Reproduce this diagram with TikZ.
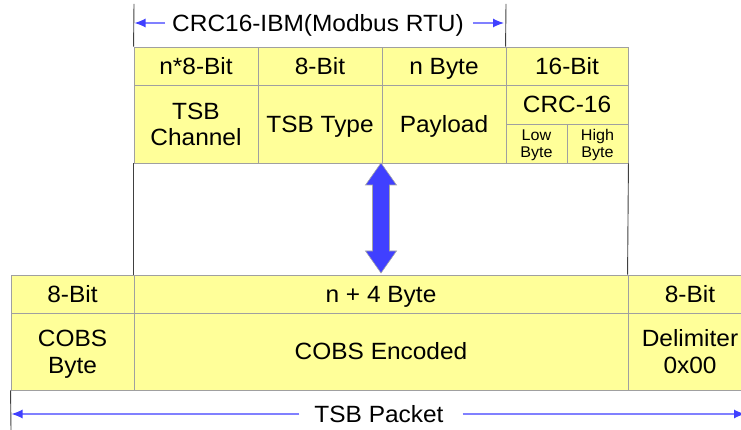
\documentclass[tikz,border=0pt]{standalone}
\usepackage{fontspec}
\setmainfont{Liberation Sans}[FakeStretch=1.04]
\usetikzlibrary{arrows.meta}
\definecolor{cellfill}{HTML}{FFFF99}
\definecolor{cellline}{HTML}{A0A0A0}
\definecolor{arrowblue}{HTML}{4040FF}
\definecolor{dimline}{HTML}{8080FF}
\tikzset{
  cell/.style={draw=cellline, fill=cellfill, line width=0.9pt, inner sep=0pt,
    align=center, font=\fontsize{23.5}{27}\selectfont,
    text height=16.6pt, text depth=0pt},
  twolines/.style={text height=43.6pt, text depth=0pt},
  smallcell/.style={cell, font=\fontsize{15.5}{17.5}\selectfont,
    text height=28.6pt, text depth=0pt},
  extline/.style={draw=black!75, line width=0.9pt},
  dimarrow/.style={draw=dimline, line width=1.2pt,
    -{Latex[length=11pt,width=9pt,color=arrowblue]}},
  label/.style={inner sep=0pt, font=\fontsize{23.5}{27}\selectfont,
    text height=16.6pt, text depth=0pt},
}
\begin{document}
\begin{tikzpicture}[x=1pt,y=-1pt]
\useasboundingbox (0,0) rectangle (741,430);
\begin{scope}
\clip (0,0) rectangle (741,430);

% frame (top): header row
\node[cell, minimum width=124pt, minimum height=38pt] (h1) at (196,66) {n*8-Bit};
\node[cell, minimum width=124pt, minimum height=38pt] (h2) at (320,66) {8-Bit};
\node[cell, minimum width=124pt, minimum height=38pt] (h3) at (444,66) {n Byte};
\node[cell, minimum width=122pt, minimum height=38pt] (h4) at (567,66) {16-Bit};
% frame (top): field row
\node[cell, twolines, text height=42.6pt, minimum width=124pt, minimum height=78pt] (f1) at (196,124) {TSB\\[-1pt]Channel};
\node[cell, minimum width=124pt, minimum height=78pt] (f2) at (320,124) {TSB Type};
\node[cell, minimum width=124pt, minimum height=78pt] (f3) at (444,124) {Payload};
\node[cell, minimum width=122pt, minimum height=39pt] (crc) at (567,104.5) {CRC-16};
\node[smallcell, minimum width=61pt, minimum height=39pt] (lo) at (536.5,143.5) {Low\\Byte};
\node[smallcell, minimum width=61pt, minimum height=39pt] (hi) at (597.5,143.5) {High\\Byte};

% packet (bottom)
\node[cell, minimum width=123pt, minimum height=38pt] (b1) at (72.5,294) {8-Bit};
\node[cell, minimum width=494pt, minimum height=38pt] (b2) at (381,294) {n + 4 Byte};
\node[cell, minimum width=124pt, minimum height=38pt] (b3) at (690,294) {8-Bit};
\node[cell, twolines, minimum width=123pt, minimum height=77pt] (c1) at (72.5,351.5) {COBS\\Byte};
\node[cell, minimum width=494pt, minimum height=77pt] (c2) at (381,351.5) {COBS Encoded};
\node[cell, twolines, minimum width=124pt, minimum height=77pt] (c3) at (690,351.5) {Delimiter\\0x00};

% extension lines
\coordinate (crcL) at (134,4);
\coordinate (crcR) at (506,4);
\coordinate (pktL) at (11,430);
\draw[extline] (crcL) -- (h1.north west);
\draw[extline] (crcR) -- (h4.north west);
\draw[extline] (f1.south west) -- (c2.north west |- b2.north west);
\draw[extline] (hi.south east) -- (b3.north west);
\draw[extline] (c1.south west) -- (pktL);

% CRC span label
\node[label] (crctxt) at (318,23) {CRC16-IBM(Modbus RTU)};
\coordinate (crcLa) at (134.5,23);
\coordinate (crcRa) at (504,23);
\draw[dimarrow] (crctxt.west) ++(-7,0) -- (crcLa);
\draw[dimarrow] (crctxt.east) ++(9,0) -- (crcRa);

% packet span label
\node[label] (pkttxt) at (379,414) {TSB Packet};
\coordinate (pktLa) at (11.5,414);
\coordinate (pktRa) at (745,414);
\draw[dimarrow] (pkttxt.west) ++(-15,0) -- (pktLa);
\draw[dimarrow] (pkttxt.east) ++(19,0) -- (pktRa);

% encode / decode arrow
\fill[arrowblue, draw=gray!70, line width=0.6pt]
  (381,163) -- (396.5,185) -- (389.5,185) -- (389.5,251) -- (396.5,251)
  -- (381,273) -- (365.5,251) -- (372.5,251) -- (372.5,185) -- (365.5,185) -- cycle;
\end{scope}
\end{tikzpicture}
\end{document}
